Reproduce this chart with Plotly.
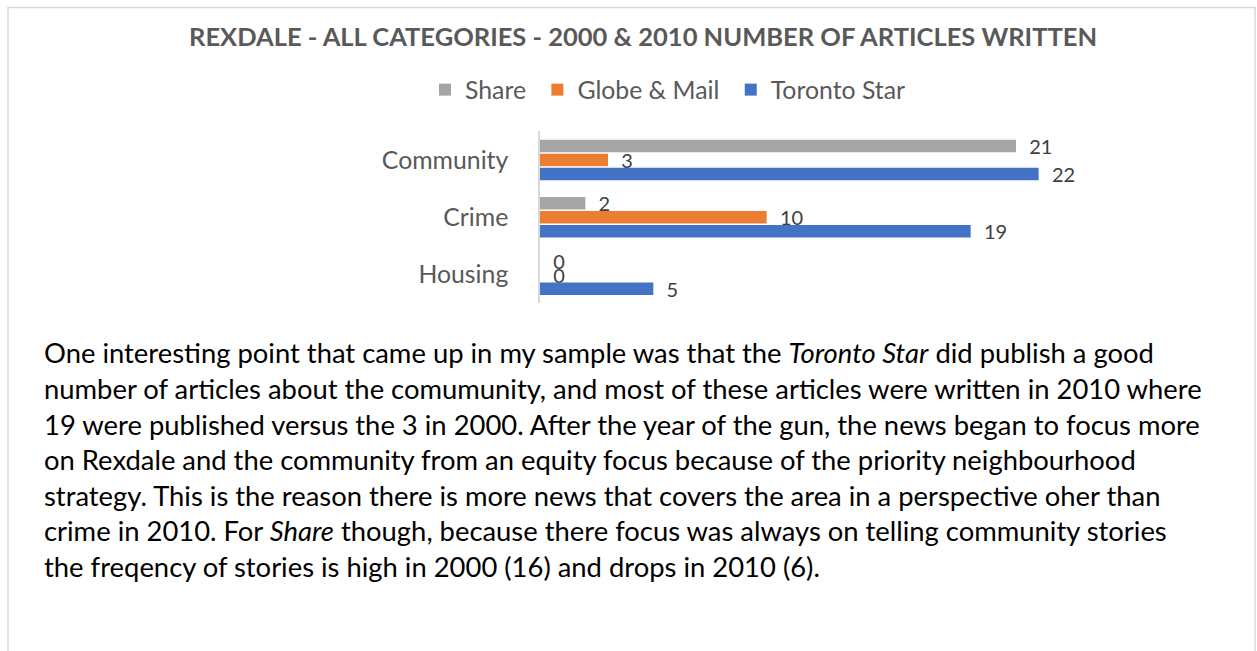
import plotly.graph_objects as go

W, H = 1257, 651

categories = ["Community", "Crime", "Housing"]
share = [21, 2, 0]
globe_mail = [3, 10, 0]
toronto_star = [22, 19, 5]

series_names = ["Share", "Globe & Mail", "Toronto Star"]
series_colors = ["#a5a5a5", "#ed7d31", "#4472c4"]

title_text = "REXDALE - ALL CATEGORIES - 2000 & 2010 NUMBER OF ARTICLES WRITTEN"

paragraph_lines = [
    "One interesting point that came up in my sample was that the <i>Toronto Star</i> did publish a good",
    "number of articles about the comumunity, and most of these articles were written in 2010 where",
    "19 were published versus the 3 in 2000. After the year of the gun, the news began to focus more",
    "on Rexdale and the community from an equity focus because of the priority neighbourhood",
    "strategy. This is the reason there is more news that covers the area in a perspective oher than",
    "crime in 2010. For <i>Share</i> though, because there focus was always on telling community stories",
    "the freqency of stories is high in 2000 (16) and drops in 2010 (6).",
]

FONT = "Lato"
GREY = "#595959"

fig = go.Figure()
for name, vals, col in zip(series_names, [share, globe_mail, toronto_star], series_colors):
    fig.add_trace(go.Bar(
        y=categories, x=vals, name=name + "\u00a0", orientation="h",
        marker=dict(color=col, line=dict(width=0)),
        text=["\u00a0\u00a0" + str(v) for v in vals],
        textposition="outside",
        constraintext="none",
        textfont=dict(family=FONT, size=20, color="#404040"),
        cliponaxis=False,
    ))

def px_x(p):
    return p / W

def px_y(p):
    return 1 - p / H

fig.update_layout(
    width=W, height=H, autosize=False,
    margin=dict(l=0, r=0, t=0, b=0),
    paper_bgcolor="white", plot_bgcolor="white",
    barmode="group", bargap=0.267, bargroupgap=0.107,
    showlegend=True,
    legend=dict(
        orientation="h", x=px_x(425), xanchor="left", y=px_y(90), yanchor="middle",
        font=dict(family=FONT, size=24.8, color=GREY),
        bgcolor="rgba(0,0,0,0)",
    ),
    xaxis=dict(
        domain=[px_x(540), px_x(1084)], range=[0, 24],
        showgrid=False, zeroline=False, showline=False, showticklabels=False,
        automargin=False,
    ),
    yaxis=dict(
        domain=[px_y(303.3), px_y(131.3)], range=[2.5, -0.5],
        type="category",
        showgrid=False, zeroline=False, showline=True, linecolor="#d9d9d9", linewidth=1.5,
        ticks="", ticklabelstandoff=25,
        tickfont=dict(family=FONT, size=24.8, color=GREY),
        automargin=False,
    ),
    annotations=[
        dict(text="<b>" + title_text + "</b>", xref="paper", yref="paper",
             x=px_x(643), y=px_y(36), xanchor="center", yanchor="middle",
             showarrow=False, font=dict(family=FONT, size=25.5, color=GREY)),
    ] + [
        dict(text=line, xref="paper", yref="paper",
             x=px_x(42), y=px_y(353 + i * 35.5), xanchor="left", yanchor="middle",
             showarrow=False, font=dict(family=FONT, size=27.4, color="#000000"))
        for i, line in enumerate(paragraph_lines)
    ],
    shapes=[
        dict(type="rect", xref="paper", yref="paper",
             x0=px_x(8), x1=px_x(1255), y0=px_y(700), y1=px_y(7.5),
             line=dict(color="#d9d9d9", width=1.5), fillcolor="rgba(0,0,0,0)", layer="below"),
    ],
)

fig.write_html("out.html")
